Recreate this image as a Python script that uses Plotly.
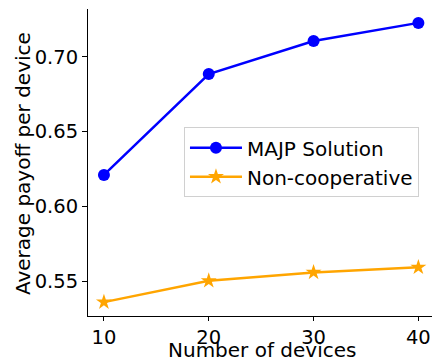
import plotly.graph_objects as go

devices = [10, 20, 30, 40]
majp = [0.6210, 0.6886, 0.7107, 0.7228]
noncoop = [0.5359, 0.5502, 0.5558, 0.5592]
y_ticks = [0.55, 0.60, 0.65, 0.70]
y_tick_labels = ["0.55", "0.60", "0.65", "0.70"]
x_ticks = [10, 20, 30, 40]
x_title = "Number of devices"
y_title = "Average payoff per device"

fig = go.Figure()
fig.add_trace(go.Scatter(x=devices, y=majp, mode="lines+markers", name="MAJP Solution",
                         line=dict(color="#0000ff", width=2.5),
                         marker=dict(symbol="circle", size=12, color="#0000ff")))
fig.add_trace(go.Scatter(x=devices, y=noncoop, mode="lines+markers", name="Non-cooperative",
                         line=dict(color="#ffa500", width=2.5),
                         marker=dict(symbol="star", size=12, color="#ffa500")))

font = "DejaVu Sans"
fig.update_layout(
    width=432, height=364,
    margin=dict(l=88, r=0, t=9, b=48),
    plot_bgcolor="white", paper_bgcolor="white",
    font=dict(family=font, size=20, color="black"),
    showlegend=True,
    legend=dict(x=0.279, y=0.615, xanchor="left", yanchor="top",
                bgcolor="white", bordercolor="#d0d0d0", borderwidth=1,
                font=dict(family=font, size=20), itemwidth=52,
                tracegroupgap=0),
    xaxis=dict(range=[8.48, 41.3], tickvals=x_ticks, showline=True, linecolor="black",
               linewidth=1, ticks="outside", ticklen=4, tickcolor="black",
               tickfont=dict(size=19.5),
               showgrid=False, zeroline=False),
    yaxis=dict(range=[0.5266, 0.7321], tickvals=y_ticks, ticktext=y_tick_labels,
               showline=True, linecolor="black", linewidth=1, ticks="outside",
               ticklen=5, tickcolor="black", tickfont=dict(size=19.5),
               showgrid=False, zeroline=False),
    annotations=[
        dict(text=x_title, xref="paper", yref="paper", x=0.506, y=-0.1564,
             xanchor="center", yanchor="bottom", showarrow=False, font=dict(size=20)),
        dict(text=y_title, xref="paper", yref="paper", x=-0.189, y=0.498,
             xanchor="center", yanchor="middle", textangle=-90, showarrow=False,
             font=dict(size=20)),
    ],
)
fig.write_html("out.html")
